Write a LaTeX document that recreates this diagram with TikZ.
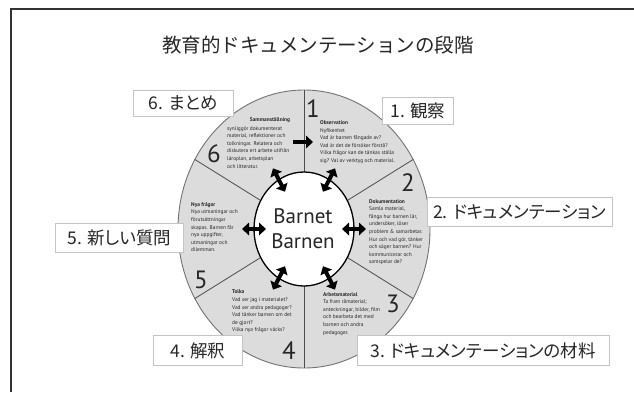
\documentclass[tikz,border=0pt]{standalone}
\usepackage{fontspec}
\setmainfont{PT Sans}
\newfontfamily\jp[RawFeature=+palt]{Noto Sans CJK JP}
\newfontfamily\jpt{Noto Sans CJK JP}
\usetikzlibrary{arrows.meta}
\definecolor{wheelfill}{HTML}{DCDCDC}
\definecolor{boxgray}{HTML}{C4C4C4}
\definecolor{ink}{HTML}{262626}
\begin{document}
\begin{tikzpicture}[x=1pt,y=-1pt,
  lbox/.style={draw=boxgray, line width=0.7pt, fill=white, font=\jp\fontsize{17.5}{17.5}\selectfont, inner sep=0pt, text=ink, anchor=north west},
  small/.style={font=\fontsize{5.4}{7.6}\selectfont, align=left, inner sep=0pt, anchor=north west, text=ink},
  num/.style={font=\fontsize{25}{25}\selectfont, text=ink, inner sep=0pt},
  div/.style={draw=black!70, line width=0.8pt},
  dbl/.style={line width=4pt, {Triangle[length=7pt,width=12.5pt]}-{Triangle[length=7pt,width=12.5pt]}},
  sgl/.style={line width=4pt, -{Triangle[length=7pt,width=12.5pt]}},
  ]
\useasboundingbox (0,0) rectangle (634,392);
\fill[white] (0,0) rectangle (634,392);
\draw[line width=2pt, black!80] (11,392) -- (11,9) -- (634,9);
\node[font=\jpt\fontsize{19.5}{19.5}\selectfont, text=ink] (title) at (318,45) {教育的ドキュメンテーションの段階};

% wheel
\coordinate (c) at (304,229);
\draw[fill=wheelfill, draw=black!55, line width=0.9pt] (c) ellipse [x radius=126, y radius=139];
\foreach \a [count=\i] in {30,90,150,210,270,330} {
  \path (c) +(-\a:50 and 57) coordinate (in\i);
  \path (c) +(-\a:126 and 139) coordinate (out\i);
  \draw[div] (in\i) -- (out\i);
}
\draw[fill=white, draw=black, line width=1.3pt] (c) ellipse [x radius=50, y radius=57];
\node[font=\fontsize{21}{25}\selectfont, align=center, text=ink] (center) at (303,229) {Barnet\\Barnen};

\foreach \a [count=\i] in {0,60,120,180,240,300} {
  \path (c) +(-\a:38 and 43) coordinate (ai\i);
  \path (c) +(-\a:62 and 70) coordinate (ao\i);
  \draw[dbl] (ai\i) -- (ao\i);
}
\coordinate (ta) at (293,142);
\coordinate (tb) at (313,142);
\draw[sgl] (ta) -- (tb);

% numbers
\node[num] (n1) at (313,109) {1};
\node[num] (n2) at (408,183) {2};
\node[num] (n3) at (393,304) {3};
\node[num] (n4) at (289,351) {4};
\node[num] (n5) at (201,280) {5};
\node[num] (n6) at (214,154) {6};

% sector texts
\node[small] (s1) at (320,120.5) {\textbf{Observation}\\Nyfikenhet\\Vad är barnen fångade av?\\Vad är det de försöker förstå?\\Vilka frågor kan de tänkas ställa\\sig? Val av verktyg och material.};
\node[small] (s2) at (369,199) {\textbf{Dokumentation}\\Samla material,\\fånga hur barnen lär,\\undersöker, löser\\problem \& samarbetar.\\Hur och vad gör, tänker\\och säger barnen? Hur\\kommunicerar och\\samspelar de?};
\node[small] (s3) at (323,292) {\textbf{Arbetsmaterial}\\Ta fram råmaterial;\\anteckningar, bilder, film\\och bearbeta det med\\barnen och andra\\pedagoger.};
\node[small] (s4) at (232,290) {\textbf{Tolka}\\Vad ser jag i materialet?\\Vad ser andra pedagoger?\\Vad tänker barnen om det\\de gjort?\\Vilka nya frågor väcks?};
\node[small] (s5) at (191,202) {\textbf{Nya frågor}\\Nya utmaningar och\\förutsättningar\\skapas. Barnen får\\nya uppgifter,\\utmaningar och\\dilemman.};
\node[small, anchor=center] (s6t) at (270,120) {\textbf{Sammanställning}};
\node[small] (s6) at (227,126) {synliggör dokumenterat\\material, reflektioner och\\tolkningar. Relatera och\\diskutera ert arbete utifrån\\läroplan, arbetsplan\\och litteratur.};

% label boxes
\node[lbox, minimum width=71pt, minimum height=27pt] (b1) at (382,97) {1. 観察};
\node[lbox, minimum width=100pt, minimum height=26pt] (b6) at (133,90) {6. まとめ};
\node[lbox, minimum width=185pt, minimum height=29pt] (b2) at (427,197) {2. ドキュメンテーション};
\node[lbox, minimum width=128pt, minimum height=29pt] (b5) at (55,223) {5. 新しい質問};
\node[lbox, minimum width=89pt, minimum height=30pt] (b4) at (153,335) {4. 解釈};
\node[lbox, minimum width=252pt, minimum height=30pt] (b3) at (357,335) {3. ドキュメンテーションの材料};
\end{tikzpicture}
\end{document}
